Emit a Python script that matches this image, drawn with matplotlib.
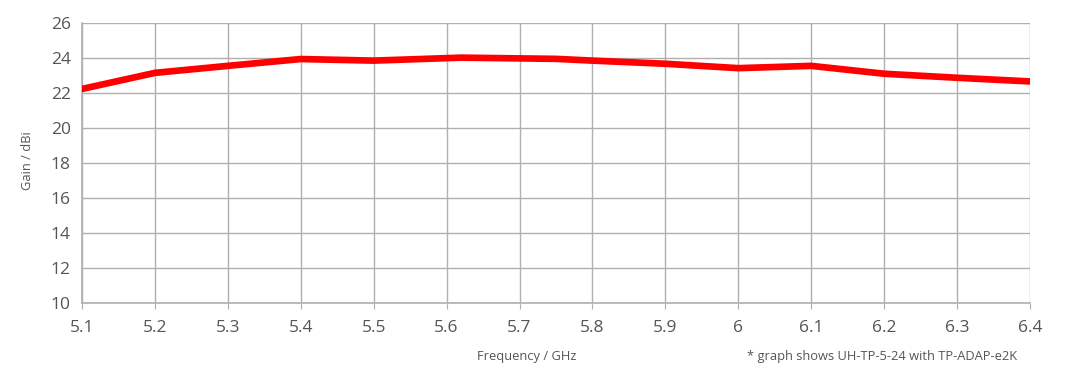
import matplotlib.pyplot as plt
import numpy as np

# Данные графика
freq = [5.1, 5.2, 5.3, 5.4, 5.5, 5.62, 5.75, 5.8, 5.9, 6.0, 6.1, 6.2, 6.3, 6.4]
gain = [22.23, 23.15, 23.55, 23.94, 23.85, 24.02, 23.95, 23.85, 23.67, 23.42, 23.55, 23.1, 22.87, 22.66]
xticks = [5.1, 5.2, 5.3, 5.4, 5.5, 5.6, 5.7, 5.8, 5.9, 6.0, 6.1, 6.2, 6.3, 6.4]
xlabels = ['5.1', '5.2', '5.3', '5.4', '5.5', '5.6', '5.7', '5.8', '5.9', '6', '6.1', '6.2', '6.3', '6.4']
yticks = [10, 12, 14, 16, 18, 20, 22, 24, 26]

plt.rcParams['font.family'] = ['Open Sans', 'DejaVu Sans']

fig = plt.figure(figsize=(10.7, 3.75), dpi=100)
ax = fig.add_axes([0.0766, 0.192, 0.886, 0.7467])

ax.plot(freq, gain, color='#ff0000', lw=4.8, solid_capstyle='round', solid_joinstyle='round', zorder=3)

ax.set_xlim(5.1, 6.4)
ax.set_ylim(10, 26)
ax.set_xticks(xticks)
ax.set_xticklabels(xlabels)
ax.set_yticks(yticks)
ax.grid(True, color='#b0b0b0', lw=1)

for s in ['top', 'right']:
    ax.spines[s].set_visible(False)
for s in ['left', 'bottom']:
    ax.spines[s].set_color('#b0b0b0')
    ax.spines[s].set_linewidth(1.2)

ax.tick_params(axis='x', colors='#b0b0b0', labelcolor='#555555', labelsize=12.5, length=4, pad=8)
ax.tick_params(axis='y', length=0, labelcolor='#555555', labelsize=12.5, pad=8)

fig.text(0.026, 0.573, 'Gain / dBi', rotation=90, ha='center', va='center', fontsize=9.3, color='#555555')
fig.text(0.4925, 0.05, 'Frequency / GHz', ha='center', va='center', fontsize=9.3, color='#555555')
fig.text(0.951, 0.05, '* graph shows UH-TP-5-24 with TP-ADAP-e2K', ha='right', va='center', fontsize=9.3, color='#555555')

plt.savefig('out.png', dpi=100)
